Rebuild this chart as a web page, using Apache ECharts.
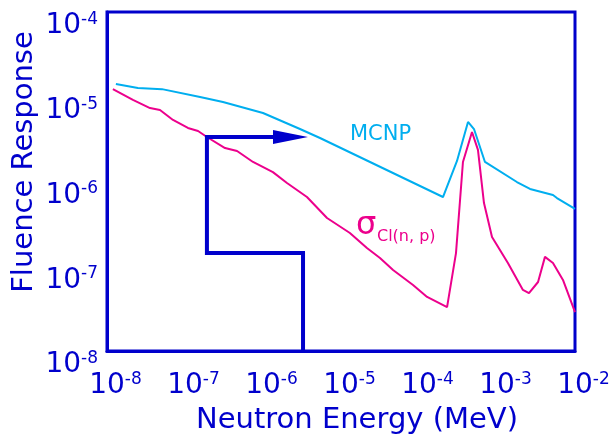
<!DOCTYPE html>
<html>
<head>
<meta charset="utf-8">
<script src="https://cdn.jsdelivr.net/npm/echarts@6/dist/echarts.min.js"></script>
<style>
  html, body { margin: 0; padding: 0; background: #ffffff; }
  #chart { width: 615px; height: 438px; }
</style>
</head>
<body>
<div id="chart"></div>
<script>
// MCNP fluence response (energy in MeV, response)
const mcnpEnergy = [1.30e-8, 2.49e-8, 5.07e-8, 1.56e-7, 3.07e-7, 1.0e-6, 2.98e-6, 5.38e-6,
  2.03e-4, 3.07e-4, 4.25e-4, 5.07e-4, 7.01e-4, 1.80e-3, 2.65e-3, 5.22e-3, 5.87e-3, 1.0e-2];
const mcnpResponse = [1.41e-5, 1.27e-5, 1.23e-5, 9.93e-6, 8.67e-6, 6.43e-6, 4.16e-6, 3.26e-6,
  6.56e-7, 1.75e-6, 5.04e-6, 4.16e-6, 1.70e-6, 9.86e-7, 8.17e-7, 6.93e-7, 6.38e-7, 4.74e-7];

// Cl(n,p) cross-section shaped response
const clEnergy = [1.19e-8, 2.15e-8, 3.56e-8, 4.78e-8, 7.02e-8, 1.09e-7, 1.47e-7, 1.91e-7,
  3.26e-7, 4.65e-7, 7.45e-7, 1.34e-6, 2.03e-6, 3.66e-6, 6.62e-6, 1.30e-5, 2.15e-5,
  3.16e-5, 4.65e-5, 8.38e-5, 1.27e-4, 2.29e-4, 2.98e-4, 3.66e-4, 4.78e-4, 5.70e-4, 6.81e-4,
  8.63e-4, 1.38e-3, 2.15e-3, 2.57e-3, 3.36e-3, 4.12e-3, 5.22e-3, 7.01e-3, 1.0e-2];
const clResponse = [1.23e-5, 9.17e-6, 7.36e-6, 6.98e-6, 5.32e-6, 4.28e-6, 3.94e-6, 3.35e-6,
  2.48e-6, 2.29e-6, 1.70e-6, 1.29e-6, 9.59e-7, 6.56e-7, 3.71e-7, 2.47e-7, 1.64e-7,
  1.25e-7, 9.04e-8, 6.01e-8, 4.34e-8, 3.30e-8, 1.43e-7, 1.70e-6, 3.84e-6, 2.36e-6, 5.57e-7,
  2.21e-7, 1.09e-7, 5.25e-8, 4.83e-8, 6.52e-8, 1.29e-7, 1.09e-7, 6.89e-8, 2.88e-8];

// Stepped marker with arrow
const stepEnergy = [3.26e-6, 3.26e-6, 1.91e-7, 1.91e-7, 1.6e-6];
const stepResponse = [1e-8, 1.43e-7, 1.43e-7, 3.35e-6, 3.35e-6];
const arrowEnergy = [2.25e-6];
const arrowResponse = [3.35e-6];

// Decade tick labels (exponents of ten)
const xTickExponents = ['-8', '-7', '-6', '-5', '-4', '-3', '-2'];
const yTickExponents = ['-8', '-7', '-6', '-5', '-4'];

const BLUE = '#0000CC';
const CYAN = '#00AEEF';
const MAGENTA = '#EC008C';
const FONT = '"DejaVu Sans", sans-serif';

const pairs = (xs, ys) => xs.map((x, i) => [x, ys[i]]);

const tickRich = {
  b: { fontSize: 28, fontFamily: FONT, color: BLUE, lineHeight: 30 },
  s: { fontSize: 17, fontFamily: FONT, color: BLUE, verticalAlign: 'top', lineHeight: 18 }
};

const chart = echarts.init(document.getElementById('chart'), null, { renderer: 'canvas' });

chart.setOption({
  animation: false,
  backgroundColor: '#ffffff',
  grid: {
    left: 107, right: 40, top: 12, bottom: 87,
    show: true, borderColor: BLUE, borderWidth: 3,
    containLabel: false, outerBoundsMode: 'none'
  },
  xAxis: {
    type: 'log', logBase: 10, min: 1e-8, max: 1e-2, splitNumber: 6,
    axisLine: { show: true, lineStyle: { color: BLUE, width: 3 } },
    axisTick: { show: false },
    splitLine: { show: false },
    axisLabel: {
      margin: 20,
      padding: [0, 0, 0, 17],
      formatter: v => '{b|10}{s|' + xTickExponents[Math.round(Math.log10(v)) + 8] + '}',
      rich: tickRich
    }
  },
  yAxis: {
    type: 'log', logBase: 10, min: 1e-8, max: 1e-4, splitNumber: 4,
    axisLine: { show: true, lineStyle: { color: BLUE, width: 3 } },
    axisTick: { show: false },
    splitLine: { show: false },
    axisLabel: {
      margin: 9,
      padding: [28, 0, 0, 0],
      formatter: v => '{b|10}{s|' + yTickExponents[Math.round(Math.log10(v)) + 8] + '}',
      rich: tickRich
    }
  },
  series: [
    {
      name: 'MCNP', type: 'line', data: pairs(mcnpEnergy, mcnpResponse),
      showSymbol: false, lineStyle: { color: CYAN, width: 2 }, z: 3
    },
    {
      name: 'Cl(n,p)', type: 'line', data: pairs(clEnergy, clResponse),
      showSymbol: false, lineStyle: { color: MAGENTA, width: 2 }, z: 3
    },
    {
      name: 'step', type: 'line', data: pairs(stepEnergy, stepResponse),
      showSymbol: false, lineStyle: { color: BLUE, width: 4, join: 'miter', cap: 'butt' }, z: 4
    },
    {
      name: 'arrow', type: 'scatter', data: pairs(arrowEnergy, arrowResponse),
      symbol: 'triangle', symbolSize: [14, 35], symbolRotate: -90,
      itemStyle: { color: BLUE, opacity: 1 }, z: 5
    }
  ],
  graphic: [
    {
      type: 'text', x: 357, y: 420, z: 10,
      style: { text: 'Neutron Energy (MeV)', font: '29px ' + FONT, fill: BLUE,
        align: 'center', verticalAlign: 'middle', textAlign: 'center', textVerticalAlign: 'middle' }
    },
    {
      type: 'text', x: 24, y: 162, rotation: Math.PI / 2, z: 10,
      style: { text: 'Fluence Response', font: '29px ' + FONT, fill: BLUE,
        align: 'center', verticalAlign: 'middle', textAlign: 'center', textVerticalAlign: 'middle' }
    },
    {
      type: 'text', x: 350, y: 135, z: 10,
      style: { text: 'MCNP', font: '21px ' + FONT, fill: CYAN,
        align: 'left', verticalAlign: 'middle', textAlign: 'left', textVerticalAlign: 'middle' }
    },
    {
      type: 'text', x: 356, y: 226, z: 10,
      style: { text: 'σ', font: '32px ' + FONT, fill: MAGENTA,
        align: 'left', verticalAlign: 'middle', textAlign: 'left', textVerticalAlign: 'middle' }
    },
    {
      type: 'text', x: 377, y: 237, z: 10,
      style: { text: 'Cl(n, p)', font: '16px ' + FONT, fill: MAGENTA,
        align: 'left', verticalAlign: 'middle', textAlign: 'left', textVerticalAlign: 'middle' }
    }
  ]
});
</script>
</body>
</html>
